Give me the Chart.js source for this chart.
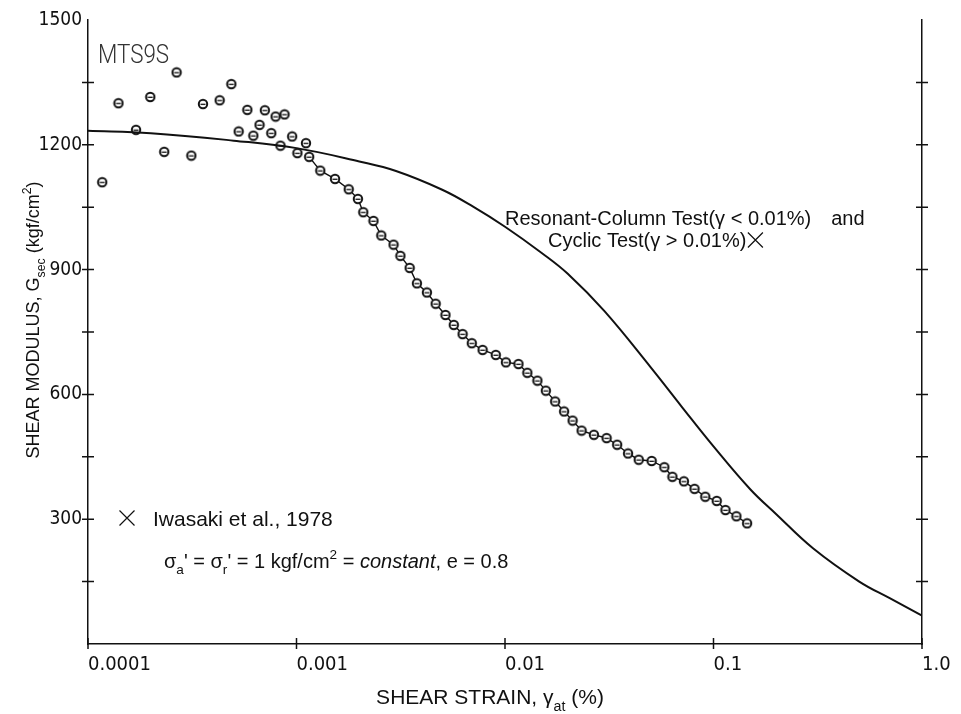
<!DOCTYPE html>
<html>
<head>
<meta charset="utf-8">
<script src="https://cdn.jsdelivr.net/npm/chart.js@4.4.1/dist/chart.umd.min.js"></script>
<style>
  html, body { margin: 0; padding: 0; background: #fff; }
  #wrap { width: 961px; height: 714px; }
</style>
</head>
<body>
<div id="wrap"><canvas id="chart" width="961" height="714"></canvas></div>
<script>
// 低應變區的散點（未連線）
const scatterStrain = [0.000117, 0.000140, 0.000170, 0.000199, 0.000232, 0.000266, 0.000313, 0.000356,
    0.000428, 0.000487, 0.000528, 0.000581, 0.000621, 0.000665, 0.000705, 0.000757, 0.000794,
    0.000838, 0.000876, 0.000953, 0.00101, 0.00111];
const scatterModulus = [1110, 1300, 1236, 1315, 1183, 1374, 1174, 1298,
    1307, 1346, 1232, 1284, 1222, 1248, 1283, 1228, 1268,
    1198, 1273, 1220, 1180, 1204];

// 連線的試驗點
const testStrain = [0.00115, 0.00130, 0.00153, 0.00178, 0.00197, 0.00209, 0.00234, 0.00255,
    0.00292, 0.00315, 0.00349, 0.00378, 0.00422, 0.00465, 0.00518, 0.00568, 0.00626, 0.00693,
    0.00781, 0.00903, 0.0101, 0.0116, 0.0128, 0.0143, 0.0157, 0.0174, 0.0192, 0.0211, 0.0233,
    0.0267, 0.0307, 0.0345, 0.0389, 0.0438, 0.0505, 0.0581, 0.0635, 0.0721, 0.0811, 0.0913,
    0.1036, 0.1141, 0.1288, 0.1449];
const testModulus = [1171, 1138, 1118, 1093, 1070, 1038, 1017, 982,
    960, 933, 904, 867, 845, 818, 791, 767, 745, 723,
    707, 695, 677, 673, 652, 633, 609, 583, 559, 537, 513,
    503, 495, 479, 458, 443, 440, 425, 402, 391, 373, 354,
    344, 322, 307, 290];

// Resonant-Column / Cyclic 曲線
const curveStrain = [0.0001, 0.0002, 0.0005, 0.001, 0.002, 0.003, 0.005, 0.007, 0.01, 0.015, 0.02, 0.03,
    0.05, 0.07, 0.1, 0.15, 0.2, 0.3, 0.5, 0.7, 1.0];
const curveModulus = [1234, 1228, 1210, 1192, 1160, 1137, 1092, 1052, 1003, 940, 890, 800,
    665, 572, 475, 372, 312, 230, 150, 110, 68];

// 軸刻度
const xTickValues = [0.0001, 0.001, 0.01, 0.1, 1];
const xTickLabels = ['0.0001', '0.001', '0.01', '0.1', '1.0'];
const yTickValues = [150, 300, 450, 600, 750, 900, 1050, 1200, 1350];
const yLabelValues = [300, 600, 900, 1200, 1500];

const BASE_FONT = '"Liberation Sans", Arial, sans-serif';
const NARROW_FONT = '"Liberation Sans Narrow", "DejaVu Sans Condensed", sans-serif';

// 圓形標記（內有短橫線）
function makeMarker() {
    const c = document.createElement('canvas');
    c.width = 12;
    c.height = 12;
    const g = c.getContext('2d');
    g.fillStyle = '#fff';
    g.strokeStyle = '#111';
    g.lineWidth = 2;
    g.beginPath();
    g.arc(6, 6, 4.2, 0, Math.PI * 2);
    g.fill();
    g.stroke();
    g.lineWidth = 1.3;
    g.beginPath();
    g.moveTo(3.5, 6.3);
    g.lineTo(8.5, 6.3);
    g.stroke();
    return c;
}
const marker = makeMarker();

function toPoints(xs, ys) {
    return xs.map((x, i) => ({ x: x, y: ys[i] }));
}

// 帶上下標的文字
function richWidth(ctx, parts, size) {
    let w = 0;
    parts.forEach(([t, mode]) => {
        const s = (mode === 'sub' || mode === 'sup') ? size * 0.68 : size;
        ctx.font = (mode === 'it' ? 'italic ' : '') + s + 'px ' + BASE_FONT;
        w += ctx.measureText(t).width;
    });
    return w;
}

function drawRich(ctx, x, y, parts, size) {
    let cx = x;
    parts.forEach(([t, mode]) => {
        const s = (mode === 'sub' || mode === 'sup') ? size * 0.68 : size;
        const dy = mode === 'sub' ? size * 0.32 : (mode === 'sup' ? -size * 0.45 : 0);
        ctx.font = (mode === 'it' ? 'italic ' : '') + s + 'px ' + BASE_FONT;
        ctx.fillText(t, cx, y + dy);
        cx += ctx.measureText(t).width;
    });
    return cx;
}

function drawCross(ctx, x, y, r) {
    ctx.beginPath();
    ctx.moveTo(x - r, y - r);
    ctx.lineTo(x + r, y + r);
    ctx.moveTo(x + r, y - r);
    ctx.lineTo(x - r, y + r);
    ctx.stroke();
}

// 刻度線與文字註解
const decorations = {
    id: 'decorations',
    afterDraw(chart) {
        const { ctx, chartArea, scales } = chart;
        ctx.save();
        ctx.strokeStyle = '#111';
        ctx.fillStyle = '#111';
        ctx.lineWidth = 1.5;

        // 左右軸的十字刻度
        yTickValues.forEach(v => {
            const py = scales.y.getPixelForValue(v);
            ctx.beginPath();
            ctx.moveTo(chartArea.left - 6, py);
            ctx.lineTo(chartArea.left + 6, py);
            ctx.moveTo(chartArea.right - 6, py);
            ctx.lineTo(chartArea.right + 6, py);
            ctx.stroke();
        });
        // 下軸刻度
        xTickValues.forEach(v => {
            const px = scales.x.getPixelForValue(v);
            ctx.beginPath();
            ctx.moveTo(px, chartArea.bottom - 6);
            ctx.lineTo(px, chartArea.bottom + 5);
            ctx.stroke();
        });

        ctx.textBaseline = 'alphabetic';
        ctx.textAlign = 'left';

        // Y 軸標題
        const yTitle = [['SHEAR MODULUS, G', ''], ['sec', 'sub'], [' (kgf/cm', ''], ['2', 'sup'], [')', '']];
        const yw = richWidth(ctx, yTitle, 18);
        ctx.save();
        ctx.translate(39, 320);
        ctx.rotate(-Math.PI / 2);
        drawRich(ctx, -yw / 2, 0, yTitle, 18);
        ctx.restore();

        // X 軸標題
        const xTitle = [['SHEAR STRAIN, γ', ''], ['at', 'sub'], [' (%)', '']];
        const xw = richWidth(ctx, xTitle, 21);
        drawRich(ctx, 490 - xw / 2, 704, xTitle, 21);

        // MTS9S（細長字體）
        ctx.save();
        ctx.translate(98, 63);
        ctx.scale(0.86, 1);
        ctx.font = '300 26px Roboto, ' + NARROW_FONT;
        ctx.fillStyle = '#333';
        ctx.fillText('MTS9S', 0, 0);
        ctx.restore();

        // 曲線說明
        const endR = drawRich(ctx, 505, 225, [['Resonant-Column Test(γ < 0.01%)', '']], 20);
        drawRich(ctx, endR + 20, 225, [['and', '']], 20);
        const endC = drawRich(ctx, 548, 247, [['Cyclic Test(γ > 0.01%)', '']], 20);
        ctx.lineWidth = 1.2;
        drawCross(ctx, endC + 9, 240, 7.5);

        // 圖例
        drawCross(ctx, 127, 518, 7.5);
        drawRich(ctx, 153, 526, [['Iwasaki et al., 1978', '']], 21);
        drawRich(ctx, 164, 568, [
            ['σ', ''], ['a', 'sub'], ["' = σ", ''], ['r', 'sub'], ["' = 1 kgf/cm", ''], ['2', 'sup'],
            [' = ', ''], ['constant', 'it'], [', e = 0.8', '']
        ], 20);

        ctx.restore();
    }
};

const ctx = document.getElementById('chart').getContext('2d');
new Chart(ctx, {
    type: 'scatter',
    data: {
        datasets: [
            {
                label: 'curve',
                data: toPoints(curveStrain, curveModulus),
                showLine: true,
                borderColor: '#111',
                borderWidth: 2,
                pointRadius: 0,
                tension: 0.4,
                fill: false
            },
            {
                label: 'test',
                data: toPoints(testStrain, testModulus),
                showLine: true,
                borderColor: '#111',
                borderWidth: 1.4,
                pointStyle: marker,
                pointRadius: 5,
                fill: false
            },
            {
                label: 'scatter',
                data: toPoints(scatterStrain, scatterModulus),
                showLine: false,
                pointStyle: marker,
                pointRadius: 5
            }
        ]
    },
    options: {
        responsive: false,
        animation: false,
        devicePixelRatio: 1,
        layout: {
            padding: { left: 28, right: 38, top: 20, bottom: 0 }
        },
        plugins: {
            legend: { display: false },
            tooltip: { enabled: false }
        },
        scales: {
            x: {
                type: 'logarithmic',
                position: 'bottom',
                min: 0.0001,
                max: 1,
                afterBuildTicks: function(scale) {
                    scale.ticks = xTickValues.map(v => ({ value: v }));
                },
                afterFit: function(scale) {
                    scale.height = 70;
                },
                grid: { display: false, drawTicks: false },
                border: { display: true, color: '#111', width: 1.5 },
                ticks: {
                    align: 'start',
                    padding: 9,
                    autoSkip: false,
                    maxRotation: 0,
                    color: '#111',
                    font: { family: NARROW_FONT, size: 20 },
                    callback: function(value) {
                        const i = xTickValues.indexOf(value);
                        return i >= 0 ? xTickLabels[i] : '';
                    }
                }
            },
            y: {
                position: 'left',
                min: 0,
                max: 1500,
                afterBuildTicks: function(scale) {
                    scale.ticks = [0].concat(yTickValues, [1500]).map(v => ({ value: v }));
                },
                afterFit: function(scale) {
                    scale.width = 60;
                },
                grid: { display: false, drawTicks: false },
                border: { display: true, color: '#111', width: 1.5 },
                ticks: {
                    padding: 6,
                    color: '#111',
                    font: { family: NARROW_FONT, size: 19 },
                    callback: function(value) {
                        return yLabelValues.includes(value) ? String(value) : '';
                    }
                }
            },
            y2: {
                position: 'right',
                min: 0,
                max: 1500,
                afterFit: function(scale) {
                    scale.width = 1;
                },
                grid: { display: false, drawTicks: false },
                border: { display: true, color: '#111', width: 1.5 },
                ticks: { display: false }
            }
        }
    },
    plugins: [decorations]
});
</script>
</body>
</html>
